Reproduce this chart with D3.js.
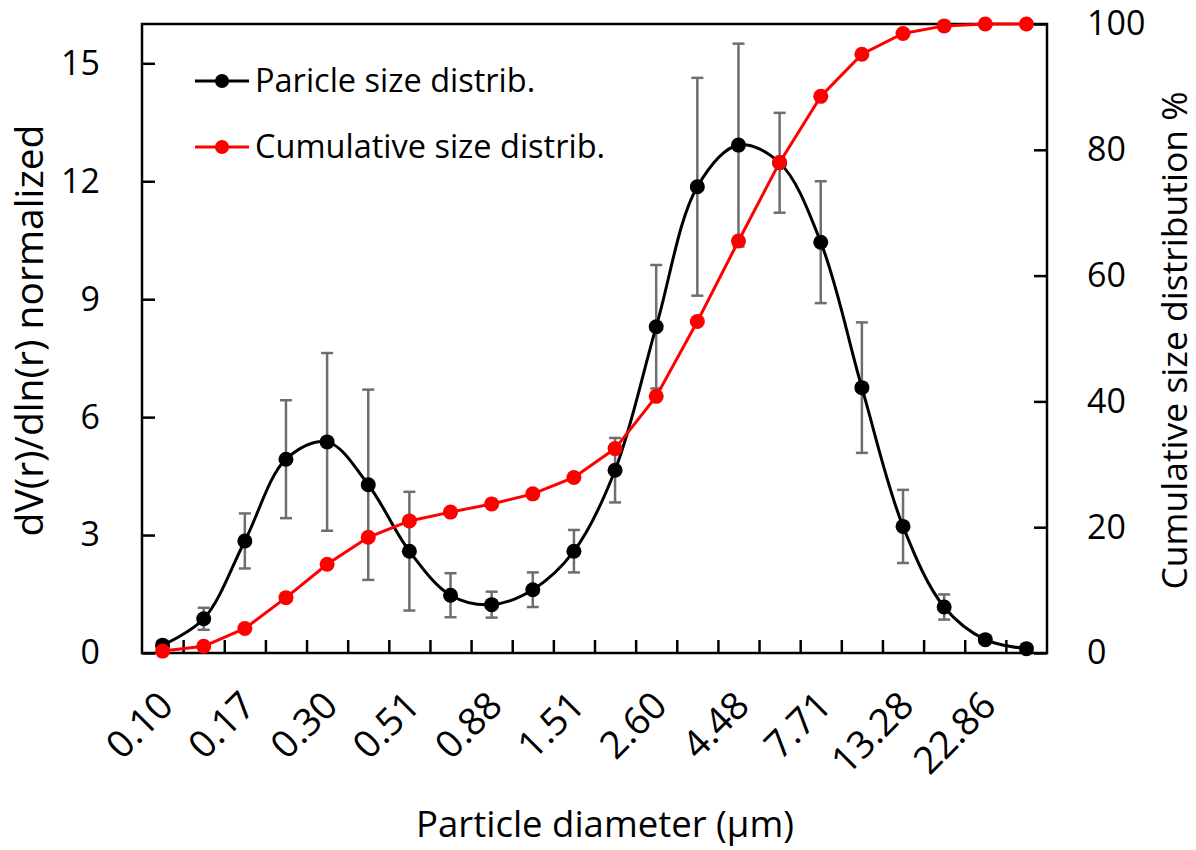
<!DOCTYPE html>
<html>
<head>
<meta charset="utf-8">
<script src="https://d3js.org/d3.v7.min.js"></script>
<style>
  body { margin: 0; background: #fff; }
  text { font-family: 'Open Sans', 'Noto Sans', sans-serif; fill: #000; }
</style>
</head>
<body>
<div id="chart"></div>
<script>
// every other bin is labelled on the x axis
var diameterLabels = ['0.10', '0.17', '0.30', '0.51', '0.88', '1.51', '2.60', '4.48', '7.71', '13.28', '22.86'];
var binCount = 22;

// dV(r)/dln(r) normalized
var psd = [0.2, 0.87, 2.85, 4.93, 5.37, 4.28, 2.59, 1.47, 1.23, 1.61, 2.59, 4.65,
  8.3, 11.86, 12.92, 12.47, 10.45, 6.75, 3.22, 1.17, 0.34, 0.11];
var psdErr = [0.1, 0.28, 0.7, 1.5, 2.26, 2.42, 1.51, 0.56, 0.33, 0.44, 0.54, 0.82,
  1.57, 2.77, 2.58, 1.27, 1.55, 1.66, 0.93, 0.32, 0, 0];

// cumulative size distribution %
var cumulative = [0.3, 1.07, 3.9, 8.8, 14.1, 18.4, 21.0, 22.4, 23.7, 25.3, 27.9, 32.5,
  40.8, 52.7, 65.5, 78.0, 88.5, 95.2, 98.5, 99.7, 100, 100];

var leftTicks = [0, 3, 6, 9, 12, 15];
var rightTicks = [0, 20, 40, 60, 80, 100];

var margin = { top: 24, left: 142, bottom: 197, right: 149 };
var width = 1196 - margin.left - margin.right;
var height = 850 - margin.top - margin.bottom;

var svg = d3.select('#chart')
  .append('svg')
  .attr('width', 1196)
  .attr('height', 850);

var g = svg.append('g')
  .attr('transform', 'translate(' + margin.left + ',' + margin.top + ')');

var x = d3.scaleBand()
  .domain(d3.range(binCount))
  .range([0, width])
  .padding(0);

// bin edges for the tick marks
var xEdge = d3.scaleLinear()
  .domain([0, binCount])
  .range([0, width]);

var yL = d3.scaleLinear().domain([0, 16]).range([height, 0]);
var yR = d3.scaleLinear().domain([0, 100]).range([height, 0]);

var cx = function(i) { return x(i) + x.bandwidth() / 2; };

///////////////////////////////////////
// axes

var gLeft = g.append('g')
  .call(d3.axisLeft(yL).tickValues(leftTicks).tickSize(-13).tickPadding(42));

var gRight = g.append('g')
  .attr('transform', 'translate(' + width + ',0)')
  .call(d3.axisRight(yR).tickValues(rightTicks).tickSize(-13).tickPadding(40));

var gEdges = g.append('g')
  .attr('transform', 'translate(0,' + height + ')')
  .call(d3.axisBottom(xEdge).tickValues(d3.range(1, binCount)).tickSize(-13).tickFormat(''));

var gBottom = g.append('g')
  .attr('transform', 'translate(0,' + height + ')')
  .call(d3.axisBottom(x)
    .tickValues(d3.range(0, binCount, 2))
    .tickSize(0)
    .tickFormat(function(i) { return diameterLabels[i / 2]; }));

[gLeft, gRight, gEdges, gBottom].forEach(function(a) {
  a.select('.domain').remove();
  a.selectAll('line').attr('stroke', '#000').attr('stroke-width', 2.5);
  a.selectAll('text')
    .style('font-family', "'Open Sans', sans-serif")
    .style('font-size', '34px')
    .attr('fill', '#000');
});

gBottom.selectAll('text')
  .style('font-size', '38px')
  .attr('transform', 'translate(-6,36) rotate(-45)')
  .attr('x', 0)
  .attr('y', 0)
  .attr('dy', '0.7em')
  .style('text-anchor', 'end');

g.append('rect')
  .attr('width', width)
  .attr('height', height)
  .attr('fill', 'none')
  .attr('stroke', '#000')
  .attr('stroke-width', 2.5);

///////////////////////////////////////
// error bars

var errColor = '#6e6e6e';
var errBars = g.append('g')
  .selectAll('g')
  .data(psd.map(function(v, i) { return { i: i, v: v, e: psdErr[i] }; }).filter(function(d) { return d.e > 0; }))
  .enter().append('g')
  .attr('stroke', errColor)
  .attr('stroke-width', 2.5);

errBars.append('line')
  .attr('x1', function(d) { return cx(d.i); })
  .attr('x2', function(d) { return cx(d.i); })
  .attr('y1', function(d) { return yL(d.v + d.e); })
  .attr('y2', function(d) { return yL(d.v - d.e); });

[1, -1].forEach(function(s) {
  errBars.append('line')
    .attr('x1', function(d) { return cx(d.i) - 6; })
    .attr('x2', function(d) { return cx(d.i) + 6; })
    .attr('y1', function(d) { return yL(d.v + s * d.e); })
    .attr('y2', function(d) { return yL(d.v + s * d.e); });
});

///////////////////////////////////////
// series

var lineL = d3.line()
  .x(function(d, i) { return cx(i); })
  .y(function(d) { return yL(d); })
  .curve(d3.curveCatmullRom.alpha(0.5));

var lineR = d3.line()
  .x(function(d, i) { return cx(i); })
  .y(function(d) { return yR(d); });

g.append('path')
  .datum(psd)
  .attr('d', lineL)
  .attr('fill', 'none')
  .attr('stroke', '#000')
  .attr('stroke-width', 3);

g.selectAll('.dot-psd')
  .data(psd)
  .enter().append('circle')
  .attr('class', 'dot-psd')
  .attr('cx', function(d, i) { return cx(i); })
  .attr('cy', function(d) { return yL(d); })
  .attr('r', 7.5)
  .attr('fill', '#000');

g.append('path')
  .datum(cumulative)
  .attr('d', lineR)
  .attr('fill', 'none')
  .attr('stroke', '#ff0000')
  .attr('stroke-width', 3);

g.selectAll('.dot-cum')
  .data(cumulative)
  .enter().append('circle')
  .attr('class', 'dot-cum')
  .attr('cx', function(d, i) { return cx(i); })
  .attr('cy', function(d) { return yR(d); })
  .attr('r', 7.5)
  .attr('fill', '#ff0000');

///////////////////////////////////////
// legend

var legendItems = [
  { label: 'Paricle size distrib.', color: '#000' },
  { label: 'Cumulative size distrib.', color: '#ff0000' }
];

var legend = svg.selectAll('.legend')
  .data(legendItems)
  .enter().append('g')
  .attr('class', 'legend')
  .attr('transform', function(d, i) { return 'translate(195,' + (81 + i * 66) + ')'; });

legend.append('line')
  .attr('x1', 0).attr('x2', 54)
  .attr('stroke', function(d) { return d.color; })
  .attr('stroke-width', 3);

legend.append('circle')
  .attr('cx', 27)
  .attr('r', 7)
  .attr('fill', function(d) { return d.color; });

legend.append('text')
  .attr('x', 60)
  .attr('dy', '0.35em')
  .style('font-size', '32.5px')
  .text(function(d) { return d.label; });

///////////////////////////////////////
// axis titles

svg.append('text')
  .attr('transform', 'translate(29,' + (margin.top + height / 2 - 8) + ') rotate(-90)')
  .attr('dy', '0.35em')
  .style('text-anchor', 'middle')
  .style('font-size', '39px')
  .text('dV(r)/dln(r) normalized');

svg.append('text')
  .attr('transform', 'translate(1175,' + (margin.top + height / 2 + 2) + ') rotate(-90)')
  .attr('dy', '0.35em')
  .style('text-anchor', 'middle')
  .style('font-size', '35.5px')
  .text('Cumulative size distribution %');

svg.append('text')
  .attr('x', 605)
  .attr('y', 824)
  .attr('dy', '0.35em')
  .style('text-anchor', 'middle')
  .style('font-size', '36.5px')
  .text('Particle diameter (µm)');
</script>
</body>
</html>
